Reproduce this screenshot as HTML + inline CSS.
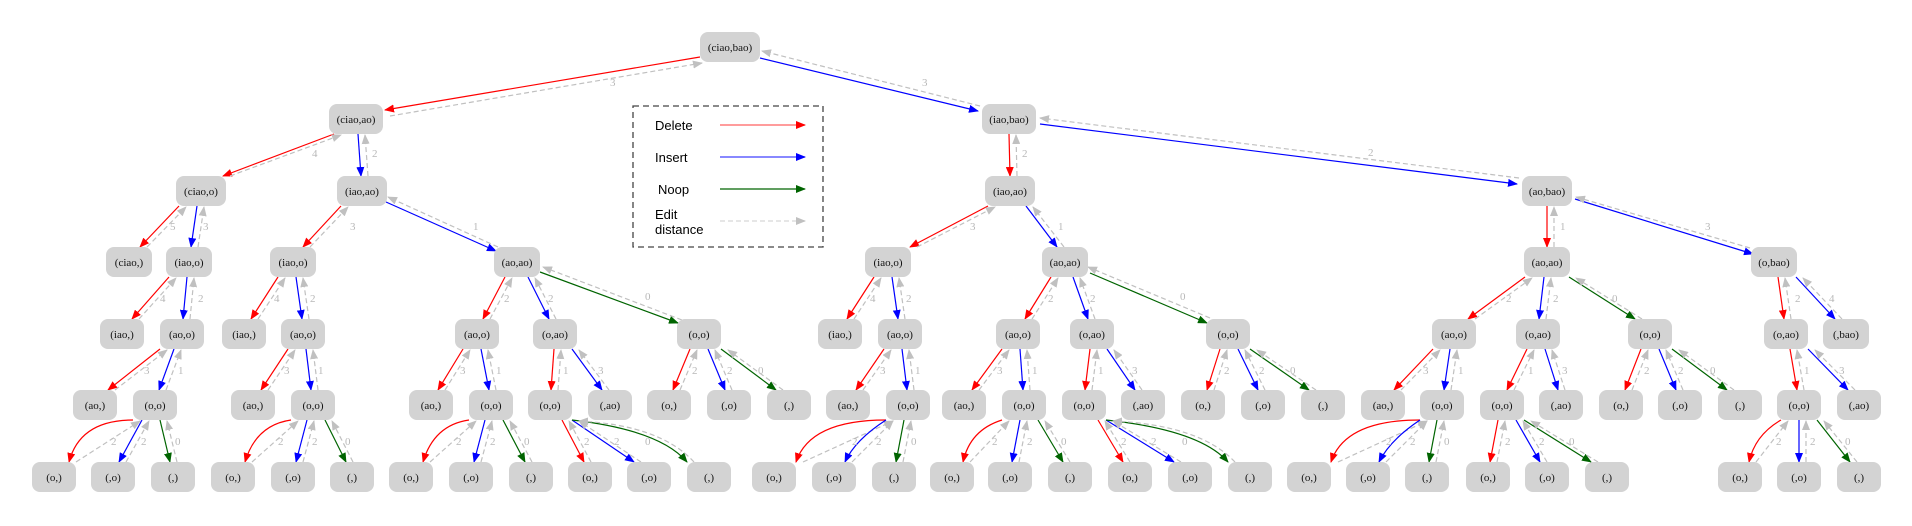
<!DOCTYPE html>
<html><head><meta charset="utf-8"><style>
html,body{margin:0;padding:0;background:#fff;}
svg{display:block;}
.n rect{fill:#d3d3d3;}
.n text{font-family:"Liberation Serif",serif;font-size:11px;fill:#111;text-anchor:middle;}
.r{stroke:#ff0000;fill:none;stroke-width:1.2;marker-end:url(#ar);}
.b{stroke:#0000ff;fill:none;stroke-width:1.2;marker-end:url(#ab);}
.g{stroke:#006400;fill:none;stroke-width:1.2;marker-end:url(#ag);}
.d{stroke:#c0c0c0;fill:none;stroke-width:1.2;stroke-dasharray:5,3;marker-end:url(#ad);}
.l text{font-family:"Liberation Serif",serif;font-size:11px;fill:#b8b8b8;}
.lg{font-family:"Liberation Sans",sans-serif;font-size:13px;fill:#000;}
</style></head><body>
<svg width="1912" height="526" viewBox="0 0 1912 526" xmlns="http://www.w3.org/2000/svg">
<defs>
<marker id="ar" markerUnits="userSpaceOnUse" markerWidth="10" markerHeight="8" refX="9" refY="4" orient="auto"><path d="M0,0 L10,4 L0,8z" fill="#ff0000"/></marker>
<marker id="ab" markerUnits="userSpaceOnUse" markerWidth="10" markerHeight="8" refX="9" refY="4" orient="auto"><path d="M0,0 L10,4 L0,8z" fill="#0000ff"/></marker>
<marker id="ag" markerUnits="userSpaceOnUse" markerWidth="10" markerHeight="8" refX="9" refY="4" orient="auto"><path d="M0,0 L10,4 L0,8z" fill="#006400"/></marker>
<marker id="ad" markerUnits="userSpaceOnUse" markerWidth="10" markerHeight="8" refX="9" refY="4" orient="auto"><path d="M0,0 L10,4 L0,8z" fill="#c0c0c0"/></marker>
</defs>

<!-- legend -->
<rect x="633" y="106" width="190" height="141" fill="none" stroke="#444" stroke-width="1.3" stroke-dasharray="6,4"/>
<text class="lg" x="655" y="130">Delete</text>
<text class="lg" x="655" y="162">Insert</text>
<text class="lg" x="658" y="194">Noop</text>
<text class="lg" x="655" y="219">Edit</text>
<text class="lg" x="655" y="234">distance</text>
<path class="r" d="M720,125 L805,125" style="stroke:#ff6060"/>
<path class="b" d="M720,157 L805,157" style="stroke:#4040ff"/>
<path class="g" d="M720,189 L805,189"/>
<path class="d" d="M720,221 L805,221" style="stroke:#d8d8d8"/>

<!-- edges -->
<g>
<path class="r" d="M700,57 L385,110"/><path class="d" d="M390,116 L702,63"/>
<path class="b" d="M760,58 L978,111"/><path class="d" d="M980,106 L762,51"/>
<path class="b" d="M1040,124 L1517,184"/><path class="d" d="M1519,178 L1040,118"/>
<path class="b" d="M386,202 L496,251"/><path class="d" d="M498,247 L388,197"/>
<path class="g" d="M540,272 L678,323"/><path class="d" d="M682,320 L543,267"/>
<path class="b" d="M1575,199 L1753,254"/><path class="d" d="M1750,248 L1576,197"/>
<path class="g" d="M1090,273 L1207,323"/><path class="d" d="M1210,318 L1088,267"/>

<path class="r" d="M334,134 L223,176"/><path class="d" d="M230,176 L341,135"/>
<path class="b" d="M358,134 L361,176"/><path class="d" d="M368,176 L365,135"/>
<path class="r" d="M1009,134 L1010,176"/><path class="d" d="M1017,176 L1016,135"/>

<path class="r" d="M179,206 L140,247"/><path class="d" d="M147,247 L186,207"/>
<path class="b" d="M197,206 L191,247"/><path class="d" d="M198,247 L204,207"/>
<path class="r" d="M341,206 L303,247"/><path class="d" d="M310,247 L348,207"/>
<path class="r" d="M988,206 L910,247"/><path class="d" d="M917,247 L995,207"/>
<path class="b" d="M1026,206 L1057,247"/><path class="d" d="M1064,247 L1033,207"/>
<path class="r" d="M1547,206 L1547,247"/><path class="d" d="M1554,247 L1554,207"/>

<path class="r" d="M169,277 L132,319"/><path class="d" d="M139,319 L176,278"/>
<path class="b" d="M187,277 L183,319"/><path class="d" d="M190,319 L194,278"/>
<path class="r" d="M278,277 L251,319"/><path class="d" d="M258,319 L285,278"/>
<path class="b" d="M296,277 L302,319"/><path class="d" d="M309,319 L303,278"/>
<path class="r" d="M505,277 L483,319"/><path class="d" d="M490,319 L512,278"/>
<path class="b" d="M528,277 L549,319"/><path class="d" d="M556,319 L535,278"/>
<path class="r" d="M874,277 L847,319"/><path class="d" d="M854,319 L881,278"/>
<path class="b" d="M892,277 L898,319"/><path class="d" d="M905,319 L899,278"/>
<path class="r" d="M1051,277 L1025,319"/><path class="d" d="M1032,319 L1058,278"/>
<path class="b" d="M1073,277 L1088,319"/><path class="d" d="M1095,319 L1080,278"/>
<path class="r" d="M1525,277 L1468,319"/><path class="d" d="M1475,319 L1532,278"/>
<path class="b" d="M1544,277 L1539,319"/><path class="d" d="M1546,319 L1551,278"/>
<path class="g" d="M1569,277 L1635,319"/><path class="d" d="M1642,319 L1576,278"/>
<path class="r" d="M1778,277 L1784,319"/><path class="d" d="M1791,319 L1785,278"/>
<path class="b" d="M1796,277 L1835,319"/><path class="d" d="M1842,319 L1803,278"/>

<path class="r" d="M160,349 L108,390"/><path class="d" d="M115,390 L167,350"/>
<path class="b" d="M174,349 L159,390"/><path class="d" d="M166,390 L181,350"/>
<path class="r" d="M288,349 L261,390"/><path class="d" d="M268,390 L295,350"/>
<path class="b" d="M306,349 L311,390"/><path class="d" d="M318,390 L313,350"/>
<path class="r" d="M463,349 L438,390"/><path class="d" d="M445,390 L470,350"/>
<path class="b" d="M481,349 L489,390"/><path class="d" d="M496,390 L488,350"/>
<path class="r" d="M554,349 L551,390"/><path class="d" d="M558,390 L561,350"/>
<path class="b" d="M572,349 L602,390"/><path class="d" d="M609,390 L579,350"/>
<path class="r" d="M690,349 L673,390"/><path class="d" d="M680,390 L697,350"/>
<path class="b" d="M708,349 L725,390"/><path class="d" d="M732,390 L715,350"/>
<path class="g" d="M721,349 L776,390"/><path class="d" d="M783,390 L728,350"/>
<path class="r" d="M884,349 L856,390"/><path class="d" d="M863,390 L891,350"/>
<path class="b" d="M902,349 L907,390"/><path class="d" d="M914,390 L909,350"/>
<path class="r" d="M1002,349 L972,390"/><path class="d" d="M979,390 L1009,350"/>
<path class="b" d="M1020,349 L1023,390"/><path class="d" d="M1030,390 L1027,350"/>
<path class="r" d="M1090,349 L1085,390"/><path class="d" d="M1092,390 L1097,350"/>
<path class="b" d="M1107,349 L1135,390"/><path class="d" d="M1142,390 L1114,350"/>
<path class="r" d="M1220,349 L1207,390"/><path class="d" d="M1214,390 L1227,350"/>
<path class="b" d="M1238,349 L1258,390"/><path class="d" d="M1265,390 L1245,350"/>
<path class="g" d="M1250,349 L1309,390"/><path class="d" d="M1316,390 L1257,350"/>
<path class="r" d="M1433,349 L1394,390"/><path class="d" d="M1401,390 L1440,350"/>
<path class="b" d="M1450,349 L1444,390"/><path class="d" d="M1451,390 L1457,350"/>
<path class="r" d="M1527,349 L1507,390"/><path class="d" d="M1514,390 L1534,350"/>
<path class="b" d="M1545,349 L1558,390"/><path class="d" d="M1565,390 L1552,350"/>
<path class="r" d="M1641,349 L1625,390"/><path class="d" d="M1632,390 L1648,350"/>
<path class="b" d="M1659,349 L1676,390"/><path class="d" d="M1683,390 L1666,350"/>
<path class="g" d="M1672,349 L1727,390"/><path class="d" d="M1734,390 L1679,350"/>
<path class="r" d="M1790,349 L1797,390"/><path class="d" d="M1804,390 L1797,350"/>
<path class="b" d="M1808,349 L1848,390"/><path class="d" d="M1855,390 L1815,350"/>

<path class="r" d="M133,420 Q80,420 69,462"/><path class="d" d="M76,462 L140,421"/>
<path class="b" d="M142,420 L119,462"/><path class="d" d="M126,462 L149,421"/>
<path class="g" d="M160,420 L170,462"/><path class="d" d="M177,462 L167,421"/>
<path class="r" d="M291,420 Q256,425 245,462"/><path class="d" d="M252,462 L298,421"/>
<path class="b" d="M307,420 L296,462"/><path class="d" d="M303,462 L314,421"/>
<path class="g" d="M325,420 L346,462"/><path class="d" d="M353,462 L332,421"/>
<path class="r" d="M469,420 Q434,425 423,462"/><path class="d" d="M430,462 L476,421"/>
<path class="b" d="M485,420 L474,462"/><path class="d" d="M481,462 L492,421"/>
<path class="g" d="M503,420 L525,462"/><path class="d" d="M532,462 L510,421"/>
<path class="r" d="M562,420 L584,462"/><path class="d" d="M591,462 L569,421"/>
<path class="b" d="M572,420 L634,462"/><path class="d" d="M641,462 L579,421"/>
<path class="g" d="M572,420 Q660,430 687,462"/><path class="d" d="M694,462 Q660,425 579,421"/>
<path class="r" d="M886,420 Q810,420 796,462"/><path class="d" d="M803,462 L893,421"/>
<path class="b" d="M886,420 Q855,440 845,462"/><path class="d" d="M852,462 L893,421"/>
<path class="g" d="M904,420 L896,462"/><path class="d" d="M903,462 L911,421"/>
<path class="r" d="M1002,420 Q970,430 963,462"/><path class="d" d="M970,462 L1009,421"/>
<path class="b" d="M1020,420 L1012,462"/><path class="d" d="M1019,462 L1027,421"/>
<path class="g" d="M1038,420 L1063,462"/><path class="d" d="M1070,462 L1045,421"/>
<path class="r" d="M1098,420 L1123,462"/><path class="d" d="M1130,462 L1105,421"/>
<path class="b" d="M1106,420 L1174,462"/><path class="d" d="M1181,462 L1113,421"/>
<path class="g" d="M1106,420 Q1200,430 1228,462"/><path class="d" d="M1235,462 Q1200,425 1113,421"/>
<path class="r" d="M1420,420 Q1345,420 1331,462"/><path class="d" d="M1338,462 L1427,421"/>
<path class="b" d="M1420,420 Q1390,440 1379,462"/><path class="d" d="M1386,462 L1427,421"/>
<path class="g" d="M1437,420 L1429,462"/><path class="d" d="M1436,462 L1444,421"/>
<path class="r" d="M1498,420 L1490,462"/><path class="d" d="M1497,462 L1505,421"/>
<path class="b" d="M1516,420 L1540,462"/><path class="d" d="M1547,462 L1523,421"/>
<path class="g" d="M1524,420 L1591,462"/><path class="d" d="M1598,462 L1531,421"/>
<path class="r" d="M1781,420 Q1755,435 1749,462"/><path class="d" d="M1756,462 L1788,421"/>
<path class="b" d="M1799,420 L1799,462"/><path class="d" d="M1806,462 L1806,421"/>
<path class="g" d="M1817,420 L1850,462"/><path class="d" d="M1857,462 L1824,421"/>
</g>

<!-- edge labels -->
<g class="l">
<text x="610" y="86">3</text><text x="922" y="86">3</text><text x="1368" y="156">2</text>
<text x="473" y="230">1</text><text x="645" y="300">0</text><text x="1705" y="230">3</text><text x="1180" y="300">0</text>
<text x="312" y="157">4</text><text x="372" y="157">2</text><text x="1022" y="157">2</text>
<text x="170" y="230">5</text><text x="203" y="230">3</text><text x="350" y="230">3</text><text x="970" y="230">3</text><text x="1058" y="230">1</text><text x="1560" y="230">1</text>
<text x="160" y="302">4</text><text x="198" y="302">2</text><text x="274" y="302">4</text><text x="310" y="302">2</text><text x="504" y="302">2</text><text x="548" y="302">2</text><text x="870" y="302">4</text><text x="906" y="302">2</text><text x="1048" y="302">2</text><text x="1090" y="302">2</text><text x="1506" y="302">2</text><text x="1553" y="302">2</text><text x="1612" y="302">0</text><text x="1795" y="302">2</text><text x="1829" y="302">4</text>
<text x="144" y="374">3</text><text x="178" y="374">1</text><text x="284" y="374">3</text><text x="318" y="374">1</text><text x="460" y="374">3</text><text x="496" y="374">1</text><text x="563" y="374">1</text><text x="598" y="374">3</text><text x="692" y="374">2</text><text x="727" y="374">2</text><text x="758" y="374">0</text><text x="880" y="374">3</text><text x="915" y="374">1</text><text x="997" y="374">3</text><text x="1032" y="374">1</text><text x="1098" y="374">1</text><text x="1132" y="374">3</text><text x="1224" y="374">2</text><text x="1259" y="374">2</text><text x="1290" y="374">0</text><text x="1423" y="374">3</text><text x="1458" y="374">1</text><text x="1528" y="374">1</text><text x="1562" y="374">3</text><text x="1644" y="374">2</text><text x="1678" y="374">2</text><text x="1710" y="374">0</text><text x="1804" y="374">1</text><text x="1839" y="374">3</text>
<text x="111" y="445">2</text><text x="141" y="445">2</text><text x="175" y="445">0</text><text x="278" y="445">2</text><text x="312" y="445">2</text><text x="345" y="445">0</text><text x="456" y="445">2</text><text x="490" y="445">2</text><text x="524" y="445">0</text><text x="584" y="445">2</text><text x="614" y="445">2</text><text x="645" y="445">0</text><text x="852" y="445">2</text><text x="876" y="445">2</text><text x="911" y="445">0</text><text x="992" y="445">2</text><text x="1027" y="445">2</text><text x="1061" y="445">0</text><text x="1121" y="445">2</text><text x="1151" y="445">2</text><text x="1182" y="445">0</text><text x="1386" y="445">2</text><text x="1410" y="445">2</text><text x="1444" y="445">0</text><text x="1505" y="445">2</text><text x="1539" y="445">2</text><text x="1569" y="445">0</text><text x="1776" y="445">2</text><text x="1810" y="445">2</text><text x="1845" y="445">0</text>
</g>

<!-- nodes -->
<g class="n">
<rect x="700" y="32" width="60" height="30" rx="8"/><text x="730" y="51">(ciao,bao)</text>
<rect x="329" y="104" width="54" height="30" rx="8"/><text x="356" y="123">(ciao,ao)</text>
<rect x="982" y="104" width="54" height="30" rx="8"/><text x="1009" y="123">(iao,bao)</text>
<rect x="176" y="176" width="50" height="30" rx="8"/><text x="201" y="195">(ciao,o)</text>
<rect x="337" y="176" width="50" height="30" rx="8"/><text x="362" y="195">(iao,ao)</text>
<rect x="985" y="176" width="50" height="30" rx="8"/><text x="1010" y="195">(iao,ao)</text>
<rect x="1522" y="176" width="50" height="30" rx="8"/><text x="1547" y="195">(ao,bao)</text>
<rect x="106" y="247" width="46" height="30" rx="8"/><text x="129" y="266">(ciao,)</text>
<rect x="166" y="247" width="46" height="30" rx="8"/><text x="189" y="266">(iao,o)</text>
<rect x="270" y="247" width="46" height="30" rx="8"/><text x="293" y="266">(iao,o)</text>
<rect x="494" y="247" width="46" height="30" rx="8"/><text x="517" y="266">(ao,ao)</text>
<rect x="865" y="247" width="46" height="30" rx="8"/><text x="888" y="266">(iao,o)</text>
<rect x="1042" y="247" width="46" height="30" rx="8"/><text x="1065" y="266">(ao,ao)</text>
<rect x="1524" y="247" width="46" height="30" rx="8"/><text x="1547" y="266">(ao,ao)</text>
<rect x="1751" y="247" width="46" height="30" rx="8"/><text x="1774" y="266">(o,bao)</text>
<rect x="100" y="319" width="44" height="30" rx="8"/><text x="122" y="338">(iao,)</text>
<rect x="160" y="319" width="44" height="30" rx="8"/><text x="182" y="338">(ao,o)</text>
<rect x="222" y="319" width="44" height="30" rx="8"/><text x="244" y="338">(iao,)</text>
<rect x="281" y="319" width="44" height="30" rx="8"/><text x="303" y="338">(ao,o)</text>
<rect x="455" y="319" width="44" height="30" rx="8"/><text x="477" y="338">(ao,o)</text>
<rect x="533" y="319" width="44" height="30" rx="8"/><text x="555" y="338">(o,ao)</text>
<rect x="677" y="319" width="44" height="30" rx="8"/><text x="699" y="338">(o,o)</text>
<rect x="818" y="319" width="44" height="30" rx="8"/><text x="840" y="338">(iao,)</text>
<rect x="878" y="319" width="44" height="30" rx="8"/><text x="900" y="338">(ao,o)</text>
<rect x="996" y="319" width="44" height="30" rx="8"/><text x="1018" y="338">(ao,o)</text>
<rect x="1070" y="319" width="44" height="30" rx="8"/><text x="1092" y="338">(o,ao)</text>
<rect x="1206" y="319" width="44" height="30" rx="8"/><text x="1228" y="338">(o,o)</text>
<rect x="1432" y="319" width="44" height="30" rx="8"/><text x="1454" y="338">(ao,o)</text>
<rect x="1516" y="319" width="44" height="30" rx="8"/><text x="1538" y="338">(o,ao)</text>
<rect x="1628" y="319" width="44" height="30" rx="8"/><text x="1650" y="338">(o,o)</text>
<rect x="1764" y="319" width="44" height="30" rx="8"/><text x="1786" y="338">(o,ao)</text>
<rect x="1823" y="319" width="46" height="30" rx="8"/><text x="1846" y="338">(,bao)</text>
<rect x="73" y="390" width="44" height="30" rx="8"/><text x="95" y="409">(ao,)</text>
<rect x="133" y="390" width="44" height="30" rx="8"/><text x="155" y="409">(o,o)</text>
<rect x="231" y="390" width="44" height="30" rx="8"/><text x="253" y="409">(ao,)</text>
<rect x="291" y="390" width="44" height="30" rx="8"/><text x="313" y="409">(o,o)</text>
<rect x="409" y="390" width="44" height="30" rx="8"/><text x="431" y="409">(ao,)</text>
<rect x="469" y="390" width="44" height="30" rx="8"/><text x="491" y="409">(o,o)</text>
<rect x="528" y="390" width="44" height="30" rx="8"/><text x="550" y="409">(o,o)</text>
<rect x="588" y="390" width="44" height="30" rx="8"/><text x="610" y="409">(,ao)</text>
<rect x="647" y="390" width="44" height="30" rx="8"/><text x="669" y="409">(o,)</text>
<rect x="707" y="390" width="44" height="30" rx="8"/><text x="729" y="409">(,o)</text>
<rect x="767" y="390" width="44" height="30" rx="8"/><text x="789" y="409">(,)</text>
<rect x="826" y="390" width="44" height="30" rx="8"/><text x="848" y="409">(ao,)</text>
<rect x="886" y="390" width="44" height="30" rx="8"/><text x="908" y="409">(o,o)</text>
<rect x="942" y="390" width="44" height="30" rx="8"/><text x="964" y="409">(ao,)</text>
<rect x="1002" y="390" width="44" height="30" rx="8"/><text x="1024" y="409">(o,o)</text>
<rect x="1062" y="390" width="44" height="30" rx="8"/><text x="1084" y="409">(o,o)</text>
<rect x="1121" y="390" width="44" height="30" rx="8"/><text x="1143" y="409">(,ao)</text>
<rect x="1181" y="390" width="44" height="30" rx="8"/><text x="1203" y="409">(o,)</text>
<rect x="1241" y="390" width="44" height="30" rx="8"/><text x="1263" y="409">(,o)</text>
<rect x="1301" y="390" width="44" height="30" rx="8"/><text x="1323" y="409">(,)</text>
<rect x="1361" y="390" width="44" height="30" rx="8"/><text x="1383" y="409">(ao,)</text>
<rect x="1420" y="390" width="44" height="30" rx="8"/><text x="1442" y="409">(o,o)</text>
<rect x="1480" y="390" width="44" height="30" rx="8"/><text x="1502" y="409">(o,o)</text>
<rect x="1539" y="390" width="44" height="30" rx="8"/><text x="1561" y="409">(,ao)</text>
<rect x="1599" y="390" width="44" height="30" rx="8"/><text x="1621" y="409">(o,)</text>
<rect x="1658" y="390" width="44" height="30" rx="8"/><text x="1680" y="409">(,o)</text>
<rect x="1718" y="390" width="44" height="30" rx="8"/><text x="1740" y="409">(,)</text>
<rect x="1777" y="390" width="44" height="30" rx="8"/><text x="1799" y="409">(o,o)</text>
<rect x="1837" y="390" width="44" height="30" rx="8"/><text x="1859" y="409">(,ao)</text>
<rect x="32" y="462" width="44" height="30" rx="8"/><text x="54" y="481">(o,)</text>
<rect x="91" y="462" width="44" height="30" rx="8"/><text x="113" y="481">(,o)</text>
<rect x="151" y="462" width="44" height="30" rx="8"/><text x="173" y="481">(,)</text>
<rect x="211" y="462" width="44" height="30" rx="8"/><text x="233" y="481">(o,)</text>
<rect x="271" y="462" width="44" height="30" rx="8"/><text x="293" y="481">(,o)</text>
<rect x="330" y="462" width="44" height="30" rx="8"/><text x="352" y="481">(,)</text>
<rect x="389" y="462" width="44" height="30" rx="8"/><text x="411" y="481">(o,)</text>
<rect x="449" y="462" width="44" height="30" rx="8"/><text x="471" y="481">(,o)</text>
<rect x="509" y="462" width="44" height="30" rx="8"/><text x="531" y="481">(,)</text>
<rect x="568" y="462" width="44" height="30" rx="8"/><text x="590" y="481">(o,)</text>
<rect x="627" y="462" width="44" height="30" rx="8"/><text x="649" y="481">(,o)</text>
<rect x="687" y="462" width="44" height="30" rx="8"/><text x="709" y="481">(,)</text>
<rect x="752" y="462" width="44" height="30" rx="8"/><text x="774" y="481">(o,)</text>
<rect x="812" y="462" width="44" height="30" rx="8"/><text x="834" y="481">(,o)</text>
<rect x="872" y="462" width="44" height="30" rx="8"/><text x="894" y="481">(,)</text>
<rect x="930" y="462" width="44" height="30" rx="8"/><text x="952" y="481">(o,)</text>
<rect x="988" y="462" width="44" height="30" rx="8"/><text x="1010" y="481">(,o)</text>
<rect x="1048" y="462" width="44" height="30" rx="8"/><text x="1070" y="481">(,)</text>
<rect x="1108" y="462" width="44" height="30" rx="8"/><text x="1130" y="481">(o,)</text>
<rect x="1168" y="462" width="44" height="30" rx="8"/><text x="1190" y="481">(,o)</text>
<rect x="1228" y="462" width="44" height="30" rx="8"/><text x="1250" y="481">(,)</text>
<rect x="1287" y="462" width="44" height="30" rx="8"/><text x="1309" y="481">(o,)</text>
<rect x="1346" y="462" width="44" height="30" rx="8"/><text x="1368" y="481">(,o)</text>
<rect x="1405" y="462" width="44" height="30" rx="8"/><text x="1427" y="481">(,)</text>
<rect x="1466" y="462" width="44" height="30" rx="8"/><text x="1488" y="481">(o,)</text>
<rect x="1525" y="462" width="44" height="30" rx="8"/><text x="1547" y="481">(,o)</text>
<rect x="1585" y="462" width="44" height="30" rx="8"/><text x="1607" y="481">(,)</text>
<rect x="1718" y="462" width="44" height="30" rx="8"/><text x="1740" y="481">(o,)</text>
<rect x="1777" y="462" width="44" height="30" rx="8"/><text x="1799" y="481">(,o)</text>
<rect x="1837" y="462" width="44" height="30" rx="8"/><text x="1859" y="481">(,)</text>
</g>
</svg>
</body></html>
